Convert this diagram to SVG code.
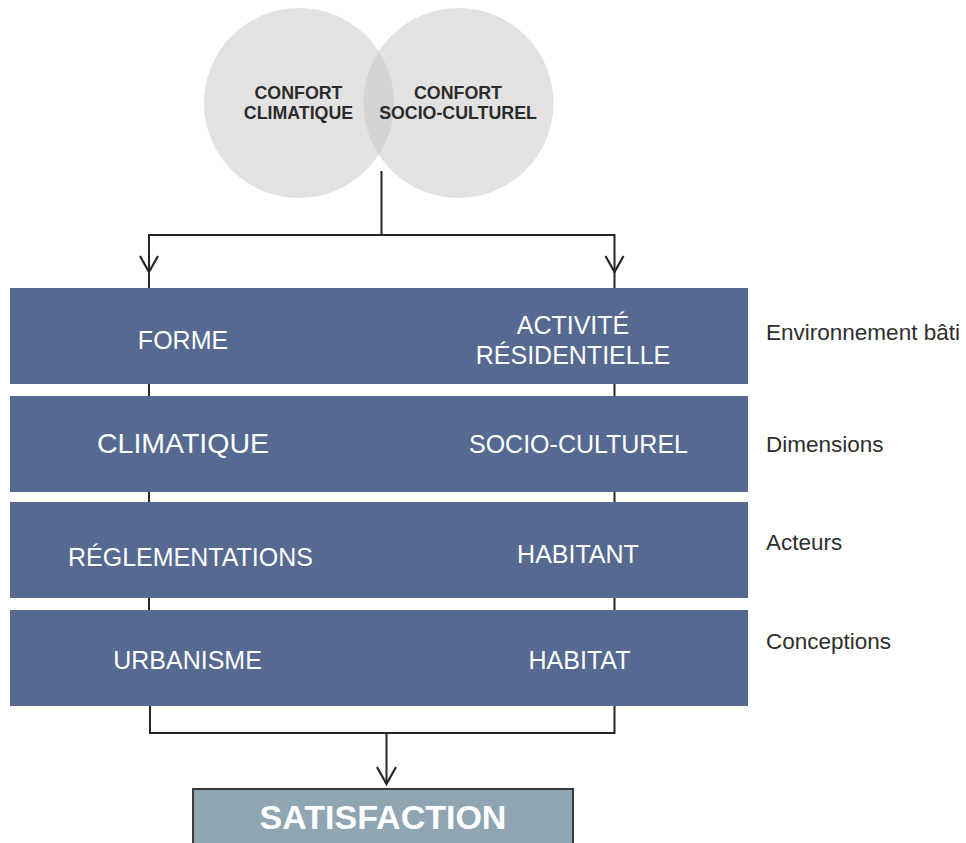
<svg xmlns="http://www.w3.org/2000/svg" width="966" height="843" viewBox="0 0 966 843">
<style>
.circ{fill:#c6c6c6;fill-opacity:0.5}
.ct{font-family:"Liberation Sans",Arial,sans-serif;font-weight:bold;font-size:17.8px;fill:#2b2b2b;text-anchor:middle}
.box{fill:#566990}
.bt{font-family:"Liberation Sans",Arial,sans-serif;font-size:25px;fill:#ffffff;text-anchor:middle}
.lab{font-family:"Liberation Sans",Arial,sans-serif;font-size:22.5px;fill:#2e2e2e}
.ln{stroke:#262626;stroke-width:2;fill:none}
.ah{stroke:#262626;stroke-width:2.2;fill:none;stroke-linejoin:miter}
</style>
<rect width="966" height="843" fill="#ffffff"/>
<g id="connectors">
<path class="ln" d="M381.5,171 V235 M149,235 H615 M149,234 V288 M614.5,234 V288"/>
<path class="ah" d="M140,256 L149,272 L158,256 M605.5,256 L614.5,272 L623.5,256"/>
<path class="ln" d="M149,384 V396 M614.5,384 V396 M149,492 V502 M614.5,492 V502 M149,598 V610 M614.5,598 V610"/>
<path class="ln" d="M150,706 V733 H614.5 V706 M386.5,733 V784"/>
<path class="ah" d="M377,767 L386.5,784 L396,767"/>
</g>
<g id="confort-climatique">
<circle class="circ" cx="299" cy="103" r="95"/>
<text class="ct" x="298.5" y="98.5">CONFORT</text>
<text class="ct" x="298.5" y="118.5">CLIMATIQUE</text>
</g>
<g id="confort-socio-culturel">
<circle class="circ" cx="458.5" cy="103" r="95"/>
<text class="ct" x="458" y="98.5">CONFORT</text>
<text class="ct" x="458" y="118.5">SOCIO-CULTUREL</text>
</g>
<g id="environnement-bati">
<rect class="box" x="10" y="288" width="738" height="96"/>
<text class="bt" x="183" y="348.5">FORME</text>
<text class="bt" x="573" y="333.5">ACTIVITÉ</text>
<text class="bt" x="573" y="363.5">RÉSIDENTIELLE</text>
<text class="lab" x="766" y="340" textLength="194">Environnement bâti</text>
</g>
<g id="dimensions">
<rect class="box" x="10" y="396" width="738" height="96"/>
<text class="bt" x="183" y="453" style="font-size:28.5px">CLIMATIQUE</text>
<text class="bt" x="578.5" y="453">SOCIO-CULTUREL</text>
<text class="lab" x="766" y="451.5">Dimensions</text>
</g>
<g id="acteurs">
<rect class="box" x="10" y="502" width="738" height="96"/>
<text class="bt" x="190.5" y="566">RÉGLEMENTATIONS</text>
<text class="bt" x="578" y="563">HABITANT</text>
<text class="lab" x="766" y="550">Acteurs</text>
</g>
<g id="conceptions">
<rect class="box" x="10" y="610" width="738" height="96"/>
<text class="bt" x="187.5" y="669">URBANISME</text>
<text class="bt" x="579.5" y="669">HABITAT</text>
<text class="lab" x="766" y="648.5">Conceptions</text>
</g>
<g id="satisfaction">
<rect x="193" y="789" width="380" height="70" fill="#8fa5b2" stroke="#3a3a3a" stroke-width="2"/>
<text x="383" y="828.5" style="font-family:'Liberation Sans',Arial,sans-serif;font-weight:bold;font-size:34px;fill:#ffffff;text-anchor:middle">SATISFACTION</text>
</g>
</svg>
